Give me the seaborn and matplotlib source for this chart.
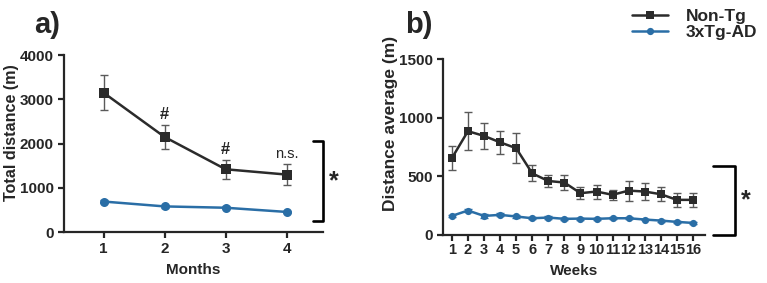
import numpy as np
import pandas as pd
import seaborn as sns
from matplotlib import pyplot as plt

# panel a: monthly totals
months = [1, 2, 3, 4]
month_nontg = [3150, 2150, 1420, 1300]
month_nontg_err = [400, 270, 215, 240]
month_tg = [690, 580, 550, 455]
month_tg_err = [35, 40, 30, 30]
month_marks = ["#", "#", "n.s."]

# panel b: weekly averages
weeks = list(range(1, 17))
week_nontg = [655, 885, 845, 790, 740, 525, 460, 447, 356, 370, 342, 378, 370, 347, 299, 299]
week_nontg_err = [105, 163, 108, 100, 128, 68, 50, 65, 50, 60, 42, 85, 72, 60, 60, 58]
week_tg = [162, 208, 162, 171, 157, 142, 148, 137, 139, 137, 142, 142, 131, 122, 111, 102]
week_tg_err = [10, 15, 14, 14, 10, 8, 12, 8, 8, 10, 8, 10, 8, 8, 8, 8]

GROUPS = ["Non-Tg", "3xTg-AD"]
COLORS = {"Non-Tg": "#2b2b2b", "3xTg-AD": "#2a6ea6"}
MARKERS = {"Non-Tg": "s", "3xTg-AD": "o"}

sns.set_style("ticks")
plt.rcParams["font.family"] = ["Liberation Sans", "DejaVu Sans"]
plt.rcParams["font.weight"] = "bold"
plt.rcParams["axes.labelweight"] = "bold"


def long_table(x, a, a_err, b, b_err, xname):
    return pd.DataFrame({
        xname: list(x) * 2,
        "value": list(a) + list(b),
        "err": list(a_err) + list(b_err),
        "group": [GROUPS[0]] * len(x) + [GROUPS[1]] * len(x),
    })


def draw_panel(ax, df, xname, msize, legend=False):
    for g in GROUPS[::-1]:
        sub = df[df["group"] == g]
        ax.errorbar(sub[xname], sub["value"], yerr=sub["err"], fmt="none",
                    ecolor="#5a5a5a" if g == "Non-Tg" else COLORS[g],
                    elinewidth=1.0, capsize=3, capthick=1.0, zorder=2)
    sns.lineplot(data=df, x=xname, y="value", hue="group", style="group",
                 hue_order=GROUPS, style_order=GROUPS, palette=COLORS,
                 markers=MARKERS, dashes=False, markersize=msize, linewidth=1.8,
                 markeredgewidth=0, ax=ax, legend=legend, zorder=3)
    sns.despine(ax=ax)
    for s in ("left", "bottom"):
        ax.spines[s].set_linewidth(1.6)
    ax.tick_params(width=1.6, length=4, labelsize=11)
    for t in ax.get_xticklabels() + ax.get_yticklabels():
        t.set_fontweight("bold")


def bracket(ax, x0, x1, y0, y1):
    ax.plot([x0, x1, x1, x0], [y0, y0, y1, y1], color="black", lw=1.9,
            transform=ax.transAxes, clip_on=False)
    ax.text(x1 + 0.042, (y0 + y1) / 2, "*", transform=ax.transAxes,
            ha="center", va="center", fontsize=18, fontweight="bold")


fig = plt.figure(figsize=(7.67, 2.83), dpi=100)
ax_a = fig.add_axes([0.0834, 0.180, 0.338, 0.625])
ax_b = fig.add_axes([0.5776, 0.170, 0.3416, 0.621])

df_a = long_table(months, month_nontg, month_nontg_err, month_tg, month_tg_err, "Months")
draw_panel(ax_a, df_a, "Months", 6.5)
ax_a.set_xlim(0.35, 4.6)
ax_a.set_ylim(0, 4000)
ax_a.set_xticks(months)
ax_a.set_yticks([0, 1000, 2000, 3000, 4000])
ax_a.set_xlabel("Months", fontsize=11, fontweight="bold", labelpad=5)
ax_a.set_ylabel("Total distance (m)", fontsize=11.6, fontweight="bold")
ax_a.yaxis.set_label_coords(-0.172, 0.56)
for x, y, e, m in zip(months[1:], month_nontg[1:], month_nontg_err[1:], month_marks):
    ax_a.text(x, y + e + 60, m, ha="center", va="bottom",
              fontsize=12 if m == "#" else 10.5,
              fontweight="bold" if m == "#" else "normal")
bracket(ax_a, 0.961, 1.0, 0.062, 0.514)
fig.text(47 / 767, 1 - 25 / 283, "a)", fontsize=21, fontweight="bold",
         va="center", ha="center")

df_b = long_table(weeks, week_nontg, week_nontg_err, week_tg, week_tg_err, "Weeks")
draw_panel(ax_b, df_b, "Weeks", 5.2, legend=True)
ax_b.set_xlim(0.45, 16.75)
ax_b.set_ylim(0, 1500)
ax_b.set_xticks(weeks)
ax_b.set_yticks([0, 500, 1000, 1500])
ax_b.set_xlabel("Weeks", fontsize=11, fontweight="bold", labelpad=5)
ax_b.set_ylabel("Distance average (m)", fontsize=12.5, fontweight="bold")
ax_b.yaxis.set_label_coords(-0.172, 0.636)
ax_b.tick_params(axis="x", labelsize=10.5, pad=2)
bracket(ax_b, 1.03, 1.115, 0.0, 0.394)
fig.text(419 / 767, 1 - 25 / 283, "b)", fontsize=21, fontweight="bold",
         va="center", ha="center")

handles, labels = ax_b.get_legend_handles_labels()
ax_b.get_legend().remove()
fig.legend(handles, labels, loc="upper right", bbox_to_anchor=(1.003, 1.01),
           frameon=False, prop={"weight": "bold", "size": 12.5},
           handlelength=2.1, labelspacing=0.05, borderpad=0.2, handletextpad=1.0)

fig.savefig("out.png", dpi=100)
